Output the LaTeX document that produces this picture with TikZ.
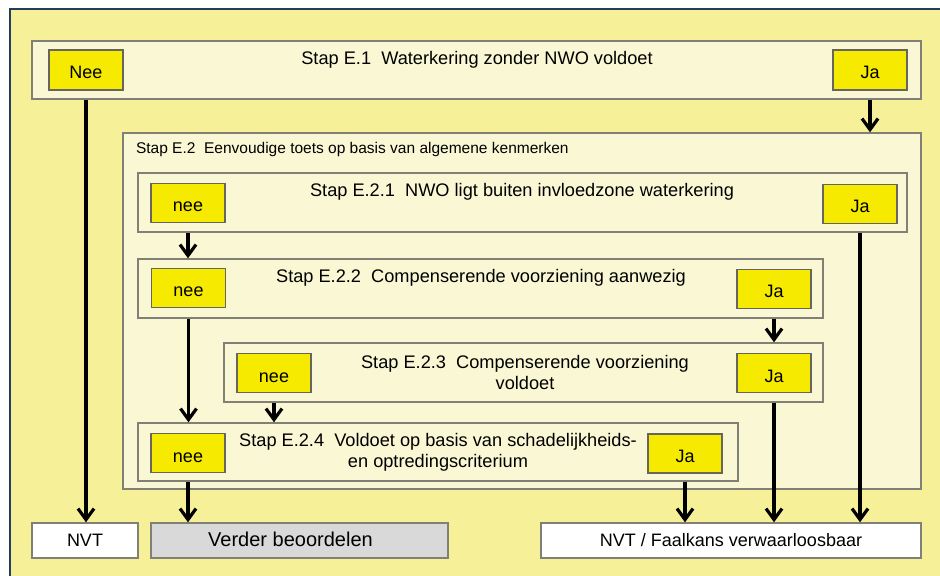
\documentclass[tikz,border=0pt]{standalone}
\usepackage{fontspec}
\setmainfont{Liberation Sans}
\usepackage{tikz}
\usetikzlibrary{arrows.meta}
\definecolor{frameyel}{RGB}{246,241,152}
\definecolor{boxyel}{RGB}{250,248,212}
\definecolor{btnyel}{RGB}{245,234,0}
\definecolor{boxgrey}{RGB}{128,128,118}
\definecolor{framblue}{RGB}{35,62,92}
\definecolor{endgrey}{RGB}{217,217,217}
\tikzstyle{stap} = [rectangle, draw=boxgrey, line width=0.7pt, fill=boxyel]
\tikzstyle{knop} = [rectangle, draw=boxgrey!80!black, line width=0.7pt, fill=btnyel, minimum width=37pt, minimum height=19.5pt, text height=9pt, text depth=0pt, font=\fontsize{9}{10}\selectfont]
\tikzstyle{eind} = [rectangle, draw=boxgrey, line width=0.7pt, minimum height=17.5pt]
\tikzstyle{titel} = [align=center, font=\fontsize{9.1}{10.5}\selectfont]
\tikzstyle{arrow} = [line width=1.6pt, -{Straight Barb[length=5.5pt,width=8pt,line width=1.6pt]}]

\begin{document}
\begin{tikzpicture}[x=0.5pt,y=-0.5pt]
        \useasboundingbox (0,0) rectangle (940,576);
        \fill[frameyel] (10,9) rectangle (940,576);
        \draw[framblue, line width=1.1pt] (10,576) -- (10,9) -- (940,9);

        % stap E.1
        \node (E1) [stap, minimum width=444.5pt, minimum height=29pt] at (476.5,70) {};
        \node (T1) [titel] at (477,60) {Stap E.1~~Waterkering zonder NWO voldoet};
        \node (nee1) [knop, minimum height=20pt] at (86,70) {Nee};
        \node (ja1) [knop, minimum height=20pt] at (870,70) {Ja};

        % stap E.2 met deelstappen
        \node (E2) [stap, minimum width=399pt, minimum height=178pt] at (522,311) {};
        \node (T2) [anchor=west, font=\fontsize{7.75}{9}\selectfont] at (129,149) {Stap E.2~~Eenvoudige toets op basis van algemene kenmerken};

        \node (E21) [stap, minimum width=384.5pt, minimum height=29.5pt] at (522.5,202.5) {};
        \node (T21) [titel] at (522,192) {Stap E.2.1~~NWO ligt buiten invloedzone waterkering};
        \node (nee21) [knop] at (188,203) {nee};
        \node (ja21) [knop] at (860,204) {Ja};

        \node (E22) [stap, minimum width=342.5pt, minimum height=29.5pt] at (480.5,288.5) {};
        \node (T22) [titel] at (481,278) {Stap E.2.2~~Compenserende voorziening aanwezig};
        \node (nee22) [knop] at (188.5,288) {nee};
        \node (ja22) [knop] at (774,289) {Ja};

        \node (E23) [stap, minimum width=299.5pt, minimum height=29.5pt] at (523.5,372.5) {};
        \node (T23) [titel] at (525,372) {Stap E.2.3~~Compenserende voorziening\\voldoet};
        \node (nee23) [knop] at (274,373) {nee};
        \node (ja23) [knop] at (774,373) {Ja};

        \node (E24) [stap, minimum width=300pt, minimum height=29pt] at (438,452) {};
        \node (T24) [titel] at (438,452) {Stap E.2.4~~Voldoet op basis van schadelijkheids-\\en optredingscriterium};
        \node (nee24) [knop] at (188,453) {nee};
        \node (ja24) [knop] at (685,453.5) {Ja};

        % uitkomsten
        \node (NVT) [eind, fill=white, minimum width=53pt, font=\fontsize{9}{10}\selectfont] at (85,540.5) {NVT};
        \node (verder) [eind, fill=endgrey, minimum width=148.5pt, font=\fontsize{10}{12}\selectfont] at (299.5,540.5) {\raisebox{1.5pt}{Verder beoordelen}\hspace*{9pt}};
        \node (faal) [eind, fill=white, minimum width=190pt, font=\fontsize{9}{10}\selectfont] at (731,540.5) {NVT / Faalkans verwaarloosbaar};

        \draw[arrow] (nee1 |- E1.south) -- (nee1 |- NVT.north);
        \draw[arrow] (ja1 |- E1.south) -- (ja1 |- E2.north);
        \draw[arrow] (nee21 |- E21.south) -- (nee21 |- E22.north);
        \draw[arrow] (nee22 |- E22.south) -- (nee22 |- E24.north);
        \draw[arrow] (ja22 |- E22.south) -- (ja22 |- E23.north);
        \draw[arrow] (nee23 |- E23.south) -- (nee23 |- E24.north);
        \draw[arrow] (nee24 |- E24.south) -- (nee24 |- verder.north);
        \draw[arrow] (ja24 |- E24.south) -- (ja24 |- faal.north);
        \draw[arrow] (ja23 |- E23.south) -- (ja23 |- faal.north);
        \draw[arrow] (ja21 |- E21.south) -- (ja21 |- faal.north);

    \end{tikzpicture}
\end{document}
